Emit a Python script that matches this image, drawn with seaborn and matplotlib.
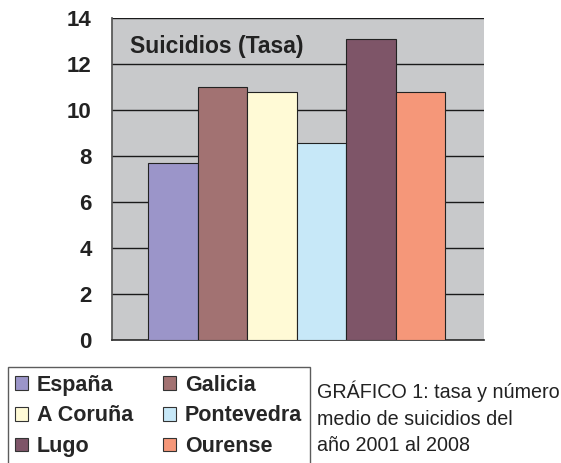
import matplotlib
matplotlib.use("Agg")
import matplotlib.pyplot as plt
import seaborn as sns
import pandas as pd
from matplotlib.patches import Patch

# Data
categories = ["España", "Galicia", "A Coruña", "Pontevedra", "Lugo", "Ourense"]
tasa = [7.7, 11.0, 10.8, 8.55, 13.1, 10.8]
colors = ["#9b95c9", "#a27272", "#fffad6", "#c7e8f8", "#7e5568", "#f59779"]
yticks = [0, 2, 4, 6, 8, 10, 12, 14]

df = pd.DataFrame({"Region": categories, "Tasa": tasa})

sns.set_theme(style="white")
plt.rcParams["font.family"] = ["Liberation Sans", "DejaVu Sans"]

fig = plt.figure(figsize=(5.61, 4.63), dpi=100)
ax = fig.add_axes([0.1996, 0.2657, 0.663, 0.6955])
ax.set_facecolor("#c8c9cb")

sns.barplot(data=df, x="Region", y="Tasa", hue="Region", palette=colors,
            saturation=1, width=1.0, edgecolor="#222222", linewidth=0.8,
            legend=False, ax=ax, zorder=3)

ax.set_ylim(0, 14)
ax.set_xlim(-1.23, 6.28)
ax.set_yticks(yticks)
ax.set_yticklabels([str(t) for t in yticks], fontsize=16, fontweight="bold",
                   color="#222222")
for t in yticks:
    ax.axhline(t, color="#1a1a1a", linewidth=1.0, zorder=1)

ax.set_xticks([-1.23, 6.28])
ax.set_xticklabels(["", ""])
ax.tick_params(axis="x", direction="out", length=5.5, width=1, color="#333333")
ax.tick_params(axis="y", direction="out", length=6.5, width=1, color="#333333", pad=8)
ax.set_xlabel("")
ax.set_ylabel("")
for side in ["top", "right"]:
    ax.spines[side].set_visible(False)
ax.spines["left"].set_color("#555555")
ax.spines["bottom"].set_color("#333333")

ax.text(0.048, 0.912, "Suicidios (Tasa)", transform=ax.transAxes,
        fontsize=16.5, fontweight="bold", color="#222222", va="center")

# legend is filled row by row in the reference
order = [0, 2, 4, 1, 3, 5]
handles = [Patch(facecolor=colors[i], edgecolor="#333333", linewidth=0.8) for i in order]
labels = [categories[i] for i in order]
leg = fig.legend(handles, labels, ncol=2, loc="upper left",
                 bbox_to_anchor=(0.014, 0.207), frameon=True, fancybox=False,
                 edgecolor="#333333", prop={"weight": "bold", "size": 15.5},
                 handlelength=0.6, handleheight=0.6, handletextpad=0.4,
                 columnspacing=1.4, labelspacing=0.45, borderpad=0.35,
                 borderaxespad=0)
leg.get_frame().set_linewidth(1.0)

fig.text(0.565, 0.097, "GRÁFICO 1: tasa y número\nmedio de suicidios del\naño 2001 al 2008",
         fontsize=14.2, color="#222222", va="center", ha="left", linespacing=1.5)

fig.savefig("out.png", dpi=100)
